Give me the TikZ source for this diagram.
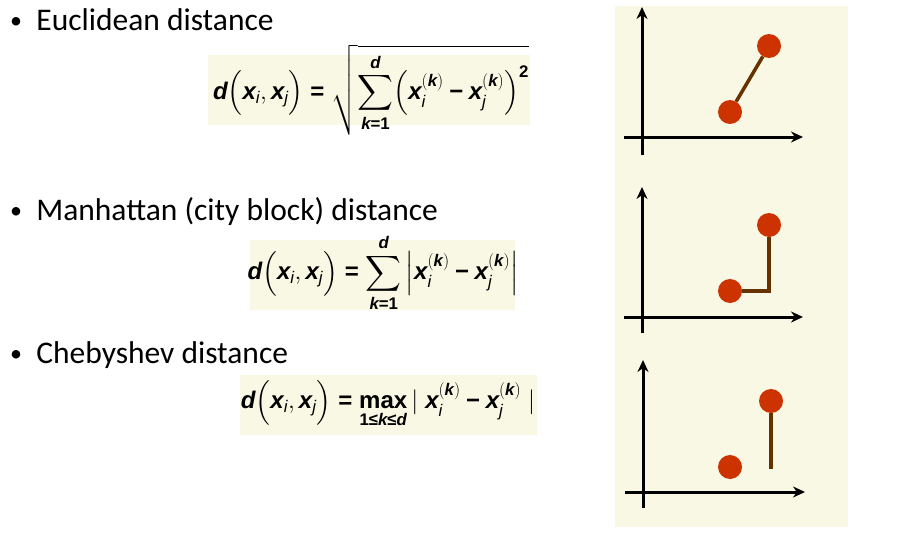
\documentclass[tikz,border=0pt]{standalone}
\usepackage{fontspec}
\usepackage{amsmath}
\setmainfont{Carlito}
\newfontfamily\fml{Liberation Sans}
\usetikzlibrary{arrows.meta,positioning}
\definecolor{panel}{RGB}{248,248,228}
\definecolor{dot}{RGB}{204,51,0}
\definecolor{link}{RGB}{102,51,0}
\newcommand{\bi}[1]{\text{\fml\bfseries\itshape #1}}
\newcommand{\bu}[1]{\text{\fml\bfseries #1}}
\newcommand{\si}[1]{\text{\fml\itshape #1}}
\newcommand{\xv}[1]{\bi{x}_{\si{#1}}}
\newcommand{\xk}[1]{\bi{x}_{\si{#1}}^{(\bi{k})}}
\newcommand{\eqs}{\mathrel{\bu{=}}}
\newcommand{\mns}{\mathbin{\bu{−}}}
\newcommand{\dl}{\bi{d}\Bigl(\xv{i},\xv{j}\Bigr)}
\newcommand{\bul}{\raisebox{2pt}{\fontsize{24}{24}\selectfont\textbullet}\ \ }

\begin{document}
\begin{tikzpicture}[x=1pt,y=-1pt,>=Stealth,
  head/.style={anchor=west,inner sep=0pt,font=\fontsize{31.5}{35}\selectfont},
  fbox/.style={fill=panel,draw=none},
  eq/.style={inner sep=0pt,font=\fontsize{24}{28}\selectfont},
  pt/.style={circle,fill=dot,minimum size=24pt,inner sep=0pt},
  ax/.style={line width=3pt,->,>={Stealth[length=12pt,width=11pt]}},
  ln/.style={line width=3.5pt,draw=link}]
\useasboundingbox (0,0) rectangle (919,543);
\fill[panel] (615,6) rectangle (848,527);

% formulas
\fill[fbox] (208,55) rectangle (530,125);
\fill[fbox] (250,240) rectangle (515,310);
\fill[fbox] (240,375) rectangle (537,435);
\node[head] (t1) at (10,20) {\bul Euclidean distance};
\node[head] (t2) at (10,212) {\bul Manhattan (city block) distance};
\node[head] (t3) at (10,355) {\bul Chebyshev distance};
\node[eq] (f1) at (371,90) {$\displaystyle\dl\eqs\sqrt{\sum_{\bi{k}\bu{=1}}^{\bi{d}}\Bigl(\xk{i}\mns\xk{j}\Bigr)^{\bu{2}}}$};
\node[eq] (f2) at (383,273) {$\displaystyle\dl\eqs\sum_{\bi{k}\bu{=1}}^{\bi{d}}\left|\xk{i}\mns\xk{j}\right|$};
\node[eq] (f3) at (388,404) {$\displaystyle\dl\eqs\mathop{\bu{max}}\limits_{\bu{1≤}\bi{k}\bu{≤}\bi{d}}|\;\xk{i}\mns\xk{j}\;|$};

% Euclidean plot
\draw[ax] (642,155) -- (642,7);
\draw[ax] (624,137) -- (803,137);
\node[pt] (e1) at (730,112) {};
\node[pt] (e2) at (769,46) {};
\draw[ln] (e1) -- (e2);

% Manhattan plot
\draw[ax] (642,333) -- (642,187);
\draw[ax] (624,317) -- (803,317);
\node[pt] (m1) at (730,291) {};
\node[pt] (m2) at (769,225) {};
\draw[ln] (m1.east) -| (m2.south);

% Chebyshev plot
\draw[ax] (643,508) -- (643,360);
\draw[ax] (625,492) -- (805,492);
\node[pt] (c1) at (730,467) {};
\node[pt] (c2) at (771,401) {};
\coordinate (c3) at (771,469);
\draw[ln] (c2) -- (c3);
\end{tikzpicture}
\end{document}
